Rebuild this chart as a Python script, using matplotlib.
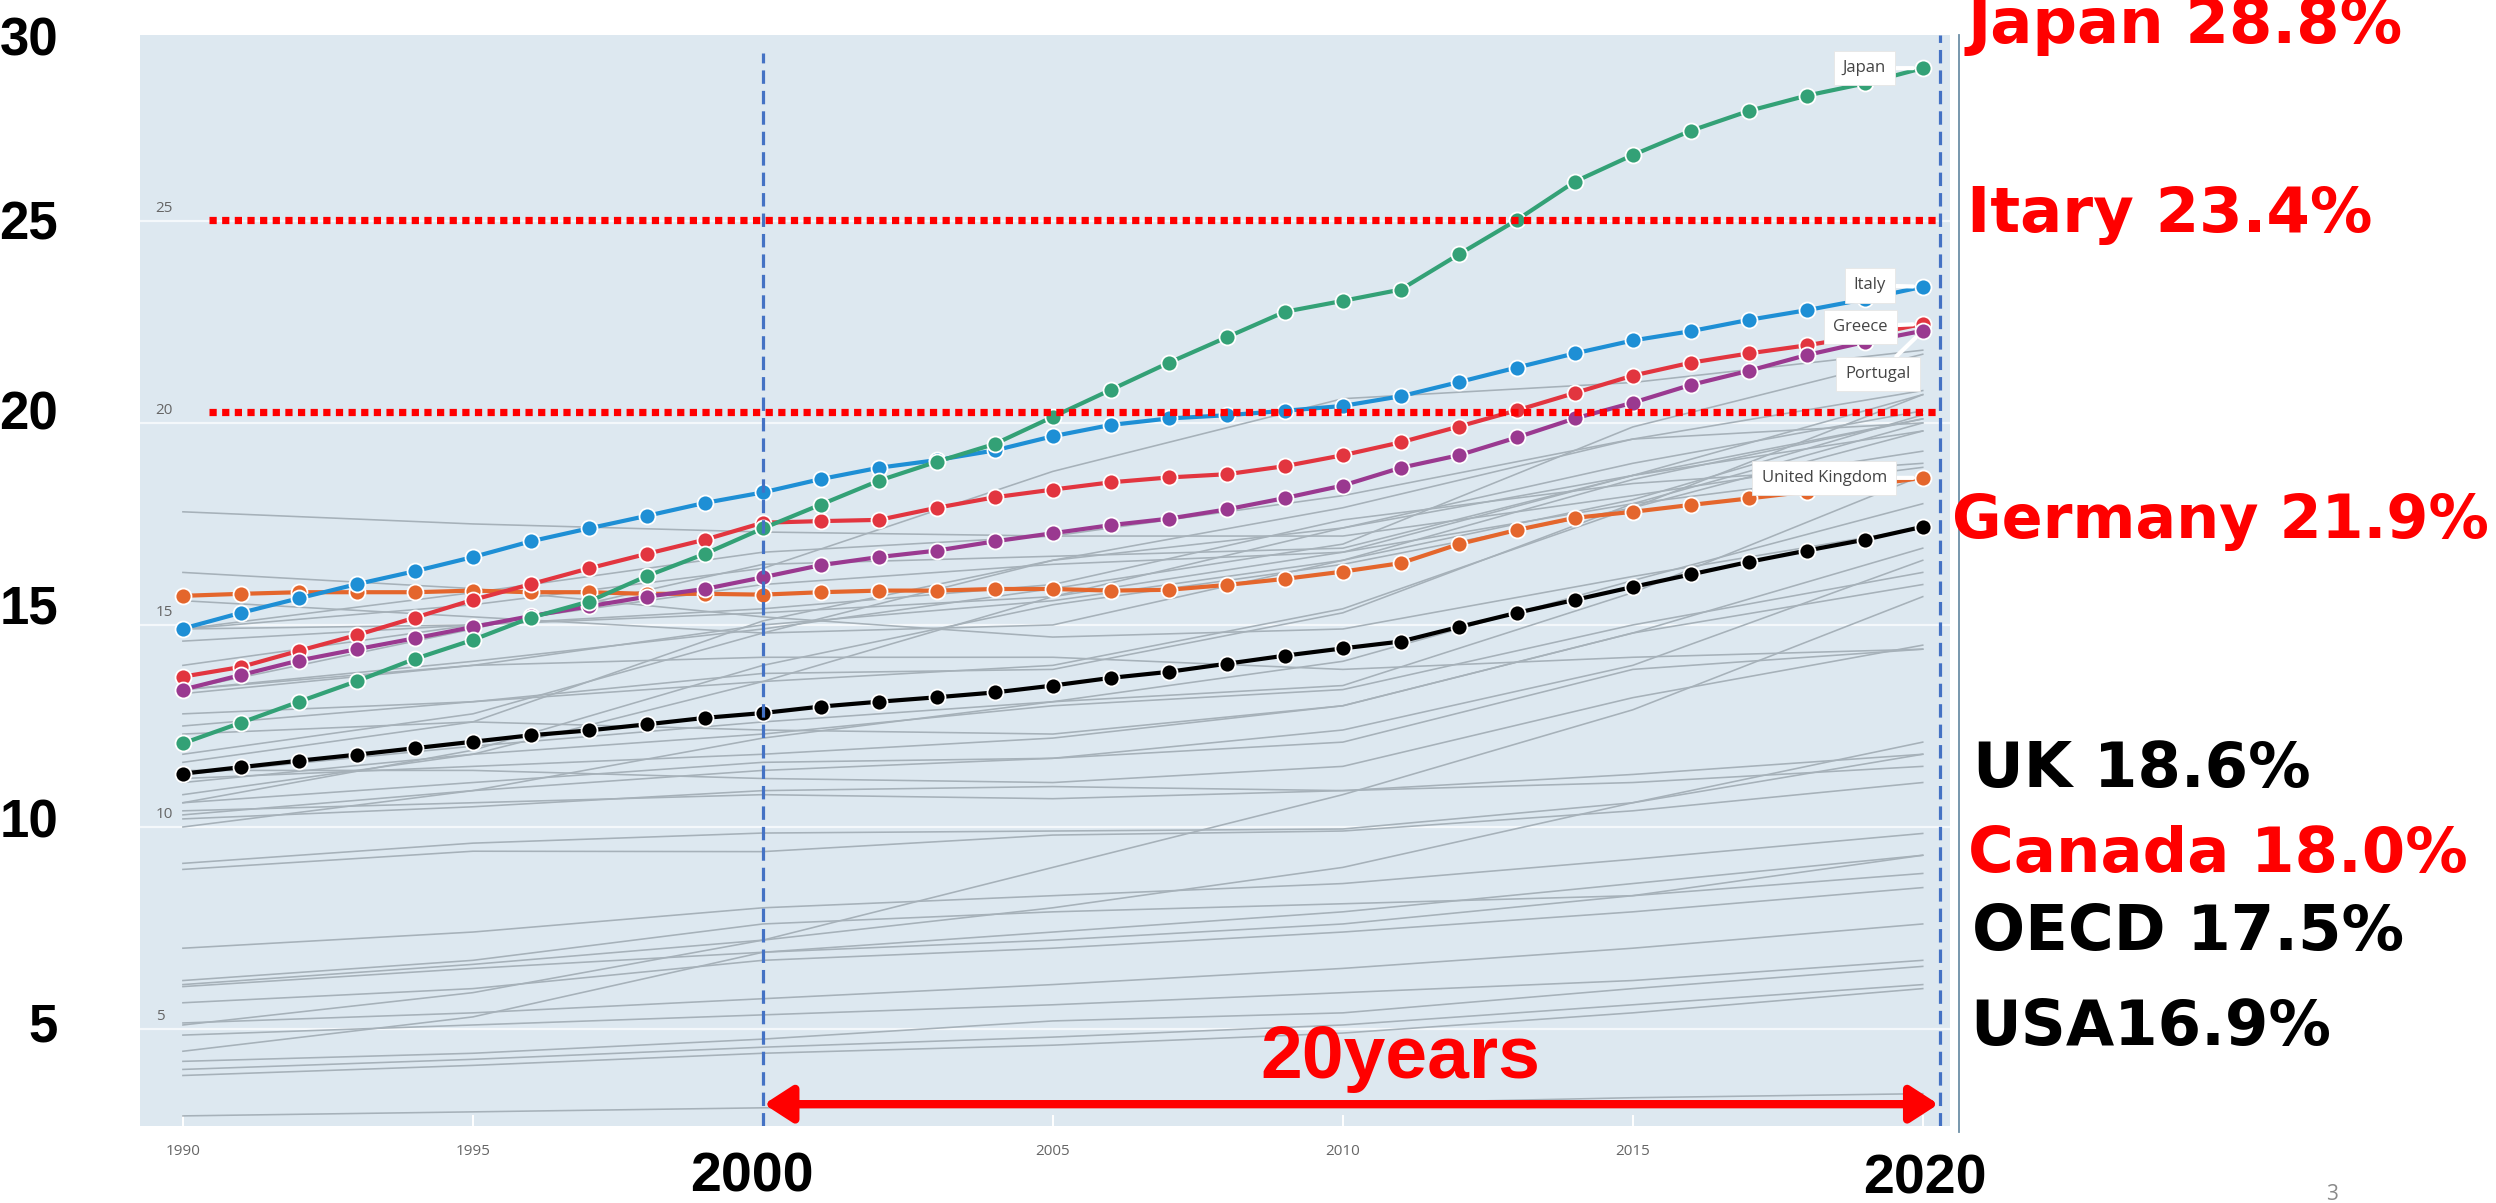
import numpy as np
import matplotlib
matplotlib.use("Agg")
import matplotlib.pyplot as plt

# ---------------- data ----------------
years = list(range(1990, 2021))

japan = [12.07, 12.58, 13.10, 13.61, 14.16, 14.63, 15.18, 15.58, 16.21, 16.76,
         17.39, 17.98, 18.57, 19.04, 19.48, 20.15, 20.82, 21.49, 22.12, 22.75,
         23.02, 23.30, 24.17, 25.02, 25.97, 26.63, 27.23, 27.72, 28.10, 28.40, 28.78]
italy = [14.91, 15.30, 15.66, 16.01, 16.33, 16.68, 17.07, 17.39, 17.70, 18.02,
         18.28, 18.61, 18.89, 19.08, 19.32, 19.67, 19.95, 20.11, 20.19, 20.30,
         20.42, 20.66, 21.01, 21.37, 21.72, 22.04, 22.27, 22.55, 22.79, 23.06, 23.37]
greece = [13.72, 13.96, 14.36, 14.75, 15.18, 15.62, 16.01, 16.40, 16.76, 17.11,
          17.53, 17.57, 17.60, 17.90, 18.16, 18.35, 18.53, 18.65, 18.73, 18.93,
          19.20, 19.52, 19.91, 20.31, 20.74, 21.17, 21.49, 21.72, 21.92, 22.16, 22.45]
portugal = [13.40, 13.76, 14.12, 14.40, 14.67, 14.95, 15.22, 15.46, 15.70, 15.89,
            16.18, 16.48, 16.68, 16.84, 17.07, 17.27, 17.47, 17.63, 17.86, 18.14,
            18.45, 18.89, 19.20, 19.64, 20.11, 20.50, 20.94, 21.29, 21.68, 22.00, 22.28]
uk = [15.72, 15.77, 15.81, 15.81, 15.81, 15.85, 15.81, 15.81, 15.77, 15.77,
      15.75, 15.81, 15.85, 15.85, 15.89, 15.89, 15.85, 15.87, 15.99, 16.14,
      16.32, 16.53, 17.00, 17.35, 17.65, 17.80, 17.97, 18.13, 18.30, 18.45, 18.64]
oecd = [11.32, 11.48, 11.64, 11.79, 11.95, 12.11, 12.27, 12.39, 12.54, 12.70,
        12.82, 12.98, 13.10, 13.21, 13.33, 13.50, 13.69, 13.84, 14.04, 14.24,
        14.42, 14.59, 14.95, 15.30, 15.62, 15.94, 16.25, 16.56, 16.84, 17.11, 17.43]

# other OECD members, sampled every five years
years5 = [1990, 1995, 2000, 2005, 2010, 2015, 2020]
others = [
    [17.8, 17.5, 17.3, 17.2, 18.2, 19.6, 20.0],
    [16.3, 15.9, 15.2, 14.7, 14.9, 16.2, 17.4],
    [15.6, 15.2, 14.8, 15.0, 16.6, 18.6, 20.1],
    [14.9, 15.8, 16.8, 17.2, 17.2, 18.2, 19.3],
    [14.0, 15.0, 16.0, 16.5, 16.8, 18.7, 20.7],
    [14.9, 15.0, 15.4, 16.0, 17.6, 18.5, 19.0],
    [13.4, 14.1, 14.9, 15.9, 17.0, 19.9, 21.7],
    [14.6, 15.0, 15.3, 15.7, 16.8, 18.0, 18.9],
    [13.4, 14.9, 16.5, 16.7, 16.9, 18.7, 19.8],
    [13.3, 14.0, 15.0, 15.6, 16.6, 18.1, 20.2],
    [12.8, 13.1, 13.6, 14.0, 15.4, 17.9, 19.8],
    [12.5, 13.1, 13.8, 13.9, 15.3, 18.0, 20.0],
    [10.6, 11.9, 14.0, 15.5, 16.5, 17.9, 20.7],
    [11.6, 12.6, 15.1, 16.6, 17.4, 19.0, 20.3],
    [11.8, 12.8, 14.8, 16.6, 17.9, 19.6, 20.8],
    [10.8, 11.8, 13.6, 15.7, 17.4, 18.7, 20.1],
    [10.0, 10.9, 12.2, 13.1, 13.5, 15.8, 18.7],
    [10.3, 10.9, 11.4, 11.7, 12.4, 14.0, 16.6],
    [11.1, 11.8, 12.3, 13.0, 13.4, 15.0, 16.3],
    [11.2, 11.5, 11.8, 12.2, 13.0, 14.8, 16.0],
    [11.3, 12.0, 12.6, 13.1, 14.1, 16.1, 18.0],
    [12.3, 12.6, 12.4, 12.3, 13.0, 14.8, 16.9],
    [13.4, 14.0, 14.2, 14.2, 13.9, 14.2, 14.4],
    [11.4, 11.4, 11.2, 11.1, 11.5, 13.2, 14.5],
    [10.6, 11.1, 11.6, 11.7, 12.1, 13.9, 14.4],
    [14.9, 15.5, 16.4, 18.8, 20.6, 21.0, 21.8],
    [10.2, 10.5, 10.9, 11.0, 10.9, 11.1, 11.5],
    [10.4, 10.6, 10.8, 10.7, 10.9, 11.3, 11.8],
    [9.1, 9.6, 9.85, 9.9, 9.95, 10.6, 11.8],
    [8.95, 9.4, 9.39, 9.8, 9.9, 10.4, 11.1],
    [6.1, 6.6, 7.2, 8.0, 9.0, 10.6, 12.1],
    [5.1, 5.9, 7.2, 9.0, 10.8, 12.9, 15.7],
    [7.0, 7.4, 8.0, 8.3, 8.6, 9.2, 9.84],
    [6.05, 6.5, 6.9, 7.4, 7.9, 8.6, 9.3],
    [6.2, 6.7, 7.6, 7.9, 8.1, 8.3, 8.85],
    [5.65, 6.0, 6.7, 7.0, 7.4, 7.9, 8.5],
    [5.15, 5.4, 5.75, 6.1, 6.5, 7.0, 7.6],
    [4.85, 5.1, 5.35, 5.6, 5.9, 6.2, 6.7],
    [4.45, 5.3, 6.9, 7.2, 7.6, 8.3, 9.3],
    [4.2, 4.4, 4.75, 5.2, 5.4, 6.0, 6.55],
    [4.0, 4.25, 4.55, 4.8, 5.1, 5.6, 6.1],
    [3.85, 4.1, 4.4, 4.6, 4.9, 5.4, 6.0],
    [2.85, 2.95, 3.05, 3.1, 3.15, 3.3, 3.4],
]

highlight_names = ["United Kingdom", "OECD", "Greece", "Portugal", "Italy", "Japan"]
highlight_values = [uk, oecd, greece, portugal, italy, japan]
highlight_colors = ["#e4662c", "#000000", "#e2353f", "#9a3990", "#1e8fd5", "#33a176"]

y_ticks = [5, 10, 15, 20, 25]
x_ticks = [1990, 1995, 2000, 2005, 2010, 2015, 2020]
x_tick_labels = ["1990", "1995", "", "2005", "2010", "2015", ""]
ref_levels = [25.02, 20.27]

big_y_labels = ["30", "25", "20", "15", "10", "5"]
side_notes = [("Japan 28.8%", "red"), ("Itary 23.4%", "red"), ("Germany 21.9%", "red"),
              ("UK 18.6%", "black"), ("Canada 18.0%", "red"),
              ("OECD 17.5%", "black"), ("USA16.9%", "black")]

# ---------------- figure ----------------
W, H = 2496, 1203
fig = plt.figure(figsize=(W / 100, H / 100), dpi=100)
fig.patch.set_facecolor("white")


def fx(px):
    return px / W


def fy(py):
    return 1 - py / H


ax_l, ax_r, ax_t, ax_b = 140, 1950, 35, 1126
ax = fig.add_axes([fx(ax_l), fy(ax_b), fx(ax_r - ax_l), (ax_b - ax_t) / H])
ax.set_facecolor("#dde8f0")
ax.set_xlim(1989.26, 2020.47)
ax.set_ylim(2.60, 29.60)
for s in ax.spines.values():
    s.set_visible(False)

ax.set_yticks(y_ticks)
ax.set_yticklabels([])
ax.tick_params(axis="y", length=0)
ax.grid(axis="y", color="#f4f8fb", lw=1.6, zorder=0)
ax.set_axisbelow(True)

ax.set_xticks(x_ticks)
ax.set_xticklabels(x_tick_labels, fontsize=11, color="#666666", family="Open Sans")
ax.tick_params(axis="x", direction="in", length=8, width=1.4, color="white", pad=13)

for v in y_ticks:
    ax.text(1989.53, v + 0.12, str(v), fontsize=11, color="#666666", family="Open Sans",
            ha="left", va="bottom", zorder=1)

# background countries
for vals in others:
    ax.plot(years5, vals, color="#a6b1b9", lw=1.15, zorder=1, solid_joinstyle="round")

# highlighted series
for i, (vals, c) in enumerate(zip(highlight_values, highlight_colors)):
    ax.plot(years, vals, color=c, lw=3.0, marker="o", ms=11.5, mec="white", mew=1.3,
            zorder=3 + i)

# name boxes at the line ends
box_style = dict(boxstyle="square,pad=0.55", fc="white", ec="#e6e6e6", lw=0.6)
label_specs = [("Japan", japan, -42, 0), ("Italy", italy, -38, 1),
               ("Greece", greece, -45, -2), ("Portugal", portugal, -32, -31),
               ("United Kingdom", uk, -71, 0)]
for name, vals, dx, dy in label_specs:
    ax.annotate(name, xy=(years[-1], vals[-1]), xytext=(dx, dy), textcoords="offset points",
                ha="center", va="center", fontsize=12, color="#444444", family="Open Sans",
                bbox=box_style, zorder=20,
                arrowprops=dict(arrowstyle="-", color="white", lw=3, shrinkA=0, shrinkB=7))

# reference lines
for lvl in ref_levels:
    ax.plot([1990.45, 2020.29], [lvl, lvl], color="#ff0000", lw=5.2,
            dashes=(1.0, 0.75), dash_capstyle="butt", zorder=12)

ax.plot([2000, 2000], [2.60, 29.16], color="#4472c4", lw=2.3, dashes=(4.2, 2.2), zorder=13)
ax.plot([2020.29, 2020.29], [2.60, 29.60], color="#4472c4", lw=2.3, dashes=(4.2, 2.2),
        zorder=13)

ax.annotate("", xy=(2000.02, 3.14), xytext=(2020.27, 3.14),
            arrowprops=dict(arrowstyle="<|-|>,head_length=0.85,head_width=0.55",
                            color="#ff0000", lw=6, mutation_scale=20,
                            shrinkA=0, shrinkB=0), zorder=14)
ax.text(2011.0, 3.8, "20years", fontsize=54, fontweight="bold", color="#ff0000",
        family="Liberation Sans", ha="center", va="baseline", zorder=15)

# thin frame line at the right of the plot
fig.add_artist(plt.Line2D([fx(1959), fx(1959)], [fy(1132), fy(35)], color="#6d8fa6",
                          lw=1.3))

# large axis annotations
big_y_pos = [55, 240, 430, 623, 837, 1041]
for lab, py in zip(big_y_labels, big_y_pos):
    fig.text(fx(58), fy(py), lab, fontsize=38, fontweight="bold", family="Liberation Sans",
             ha="right", va="baseline", color="black")

fig.text(fx(752), fy(1192), "2000", fontsize=40, fontweight="bold",
         family="Liberation Sans", ha="center", va="baseline", color="black")
fig.text(fx(1925), fy(1193), "2020", fontsize=40, fontweight="bold",
         family="Liberation Sans", ha="center", va="baseline", color="black")

side_pos = [(1967, 43), (1967, 232), (1952, 538), (1973, 787), (1968, 872),
            (1972, 950), (1970, 1045)]
side_size = [45, 45, 43.5, 45, 45, 45, 45]
for (txt, col), (px, py), fs in zip(side_notes, side_pos, side_size):
    fig.text(fx(px), fy(py), txt, fontsize=fs, fontweight="bold", family="DejaVu Sans",
             ha="left", va="baseline", color=col)

fig.text(fx(2326), fy(1200), "3", fontsize=15, color="#8a8a8a", family="Open Sans",
         ha="left", va="baseline")

fig.savefig("out.png", dpi=100, facecolor="white")
